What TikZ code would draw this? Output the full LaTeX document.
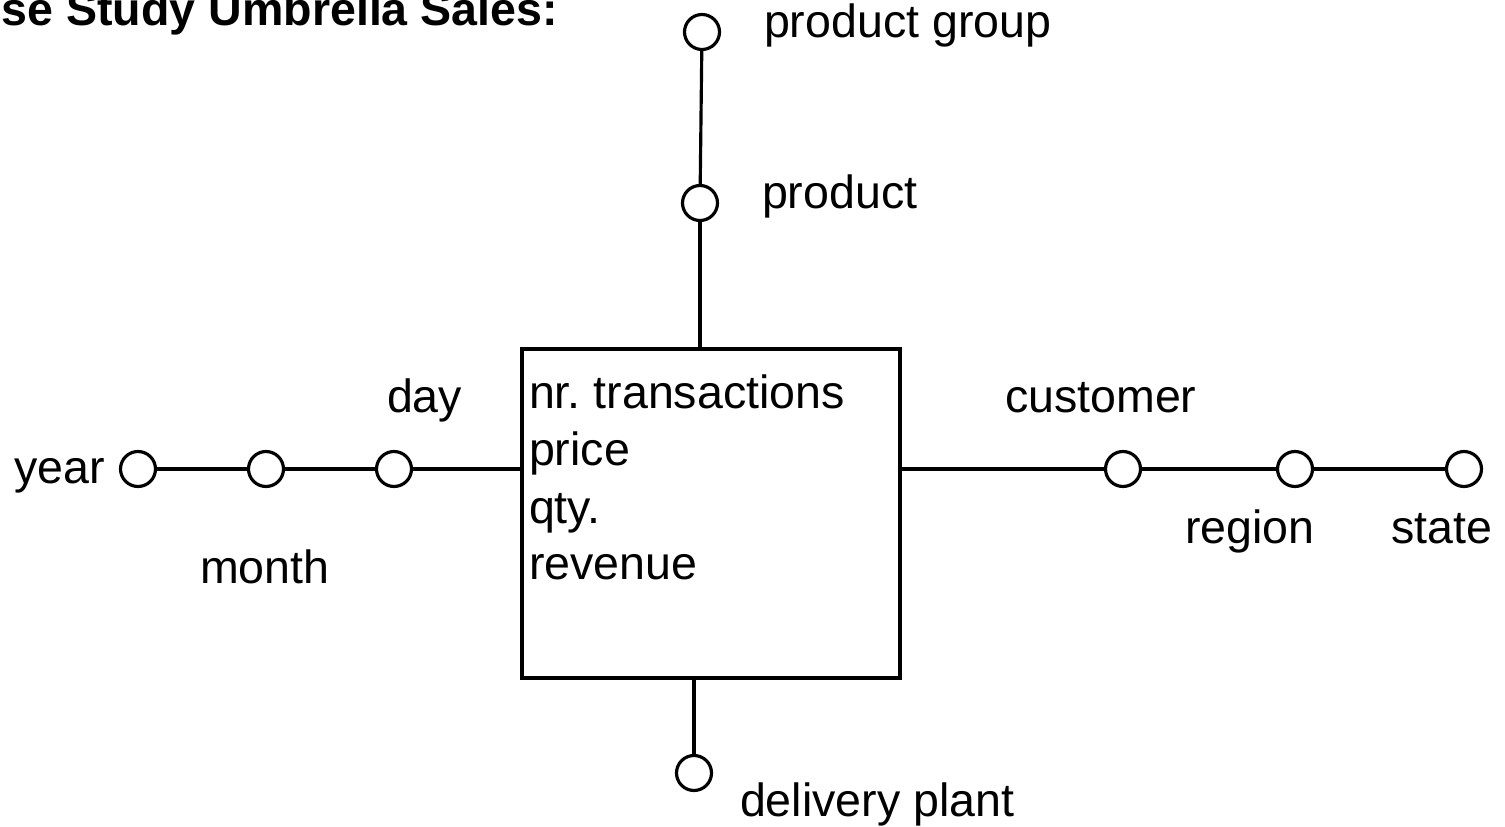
\documentclass[tikz,border=0pt]{standalone}
\usepackage{fontspec}
\setmainfont{Liberation Sans}
\frenchspacing
\begin{document}
\begin{tikzpicture}[x=0.02cm, y=-0.02cm,
  every node/.style={inner sep=0pt, outer sep=0pt},
  lbl/.style={font=\fontsize{26.5}{32}\selectfont, anchor=base west},
  lblr/.style={font=\fontsize{26.5}{32}\selectfont, anchor=base east},
  ttl/.style={font=\fontsize{26.5}{32}\selectfont\bfseries, anchor=base east},
  level/.style={circle, draw, line width=1.8pt, minimum size=0.7cm, fill=white},
  fact/.style={rectangle, draw, line width=1.8pt, minimum width=7.56cm, minimum height=6.58cm},
  link/.style={line width=1.8pt}]
  \useasboundingbox (0,0) rectangle (1505,827);

  % title
  \node[ttl] (title) at (558,26) {se Study Umbrella Sales:};

  % fact table with its measures
  \node[fact] (box) at (711,513.5) {};
  \node[lbl] (m1) at (529,409) {nr. transactions};
  \node[lbl] (m2) at (529,466) {price};
  \node[lbl] (m3) at (529,523) {qty.};
  \node[lbl] (m4) at (529,580) {revenue};

  % time dimension
  \node[level] (year)  at (138,469) {};
  \node[level] (month) at (266,469) {};
  \node[level] (day)   at (394,469) {};
  \node[lblr] (tyear)  at (105,483) {year};
  \node[lbl]  (tmonth) at (200,583) {month};
  \node[lbl]  (tday)   at (387,413) {day};

  % customer dimension
  \node[level] (cust)   at (1123,469) {};
  \node[level] (region) at (1295,469) {};
  \node[level] (state)  at (1464,469) {};
  \node[lbl] (tcust)   at (1005,413) {customer};
  \node[lbl] (tregion) at (1185,543) {region};
  \node[lbl] (tstate)  at (1391,543) {state};

  % product dimension
  \node[level] (pg)   at (702,32) {};
  \node[level] (prod) at (700,203) {};
  \node[lbl] (tpg)   at (764,38) {product group};
  \node[lbl] (tprod) at (762,209) {product};

  % delivery plant dimension
  \node[level] (dp) at (694,773) {};
  \node[lbl] (tdp) at (740,816) {delivery plant};

  % connectors
  \draw[link] (year) -- (month);
  \draw[link] (month) -- (day);
  \draw[link] (day) -- (day -| box.west);
  \draw[link] (box.east |- cust) -- (cust);
  \draw[link] (cust) -- (region);
  \draw[link] (region) -- (state);
  \draw[link] (pg) -- (prod);
  \draw[link] (prod) -- (prod |- box.north);
  \draw[link] (box.south -| dp) -- (dp);
\end{tikzpicture}
\end{document}
